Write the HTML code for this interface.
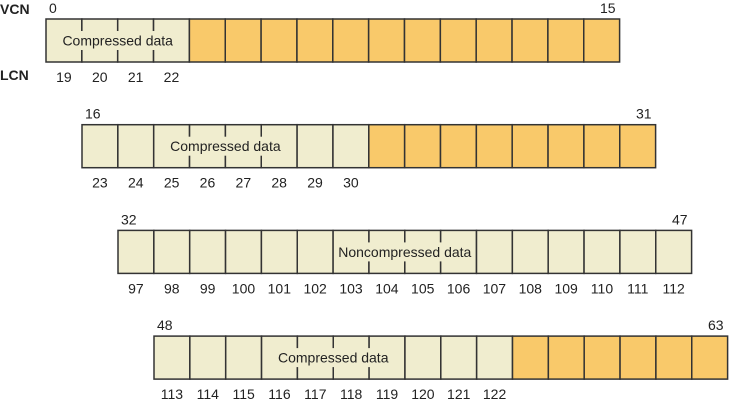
<!DOCTYPE html>
<html><head><meta charset="utf-8"><style>
body{margin:0;background:#fff;}
svg text{font-family:"Liberation Sans",sans-serif;font-size:14px;fill:#222;}
</style></head><body>
<svg id="c" width="729" height="400" xmlns="http://www.w3.org/2000/svg">
<text x="0" y="14" style="font-weight:bold">VCN</text>
<text x="0" y="80" style="font-weight:bold">LCN</text>
</svg>
<script>
const rowStartVcn=[0,16,32,48];
const rowLcnStart=[19,23,97,113];
const rowLightCount=[4,8,16,10];
const rowText=["Compressed data","Compressed data","Noncompressed data","Compressed data"];
const cellsPerRow=16;
const W=35.85,H=43,X0=46,Y0=19,DX=36,DY=105.7;
const svg=document.getElementById('c');
const NS='http://www.w3.org/2000/svg';
function mk(t,a){const e=document.createElementNS(NS,t);for(const k in a)e.setAttribute(k,a[k]);svg.appendChild(e);return e;}
rowStartVcn.forEach((v,r)=>{
  const x0=X0+r*DX,y0=Y0+r*DY;
  for(let i=0;i<cellsPerRow;i++){
    const light=i<rowLightCount[r];
    const c=mk('rect',{x:x0+i*W,y:y0,width:W,height:H,fill:light?'#f0edcf':'#f9c96a',stroke:'#333','stroke-width':1.5});
    
    
    if(light){
      const t=mk('text',{x:x0+i*W+W/2,y:y0+H+20,'text-anchor':'middle'});
      t.textContent=rowLcnStart[r]+i;
      
      
    }
  }
  const cx=x0+rowLightCount[r]*W/2;
  const tw=rowText[r].length*7.6;
  const bg=mk('rect',{x:cx-tw/2-2,y:y0+12,width:tw+4,height:H-24,fill:'#f0edcf'});
  
  
  const lt=mk('text',{x:cx,y:y0+H/2+5,'text-anchor':'middle'});
  lt.textContent=rowText[r];
  
  
  const a=mk('text',{x:x0+3,y:y0-6});
  a.textContent=v;
  
  
  const b=mk('text',{x:x0+cellsPerRow*W-4,y:y0-6,'text-anchor':'end'});
  b.textContent=v+cellsPerRow-1;
  
  
});
</script>
</body></html>
